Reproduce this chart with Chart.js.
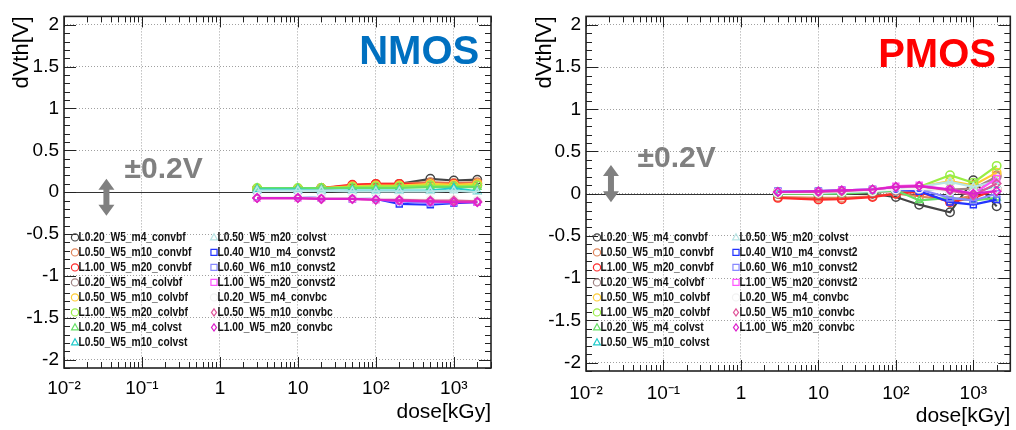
<!DOCTYPE html>
<html>
<head>
<meta charset="utf-8">
<script src="https://cdn.jsdelivr.net/npm/chart.js@4.4.1/dist/chart.umd.min.js"></script>
<style>
  html, body { margin: 0; padding: 0; background: #fff; }
  #wrap { position: relative; width: 1016px; height: 430px; }
  canvas { position: absolute; top: 0; }
</style>
</head>
<body>
<div id="wrap">
  <canvas id="nmos" width="508" height="430" style="left:0"></canvas>
  <canvas id="pmos" width="508" height="430" style="left:508px"></canvas>
</div>
<script>
// dose points (kGy)
const dose = [3, 10, 20, 50, 100, 200, 500, 1000, 2000]

const seriesNames = [
  'L0.20_W5_m4_convbf', 'L0.50_W5_m10_convbf', 'L1.00_W5_m20_convbf',
  'L0.20_W5_m4_colvbf', 'L0.50_W5_m10_colvbf', 'L1.00_W5_m20_colvbf',
  'L0.20_W5_m4_colvst', 'L0.50_W5_m10_colvst', 'L0.50_W5_m20_colvst',
  'L0.40_W10_m4_convst2', 'L0.60_W6_m10_convst2', 'L1.00_W5_m20_convst2',
  'L0.20_W5_m4_convbc', 'L0.50_W5_m10_convbc', 'L1.00_W5_m20_convbc'
]
const seriesColors = [
  '#444444', '#e0855a', '#ff2a2a',
  '#a08484', '#ffcc33', '#99ee44',
  '#66e066', '#22cccc', '#b8e4e4',
  '#2233ff', '#8888ff', '#ff55ff',
  '#f2f2f2', '#e0559a', '#dd22cc'
]
const seriesMarkers = [
  'circle', 'circle', 'circle',
  'circle', 'circle', 'circle',
  'triangle', 'triangle', 'triangle',
  'rect', 'rect', 'rect',
  'circle', 'rectRot', 'rectRot'
]

// NMOS dVth [V]
const nmos_L020_convbf  = [0.04, 0.04, 0.05, 0.08, 0.09, 0.10, 0.16, 0.14, 0.15]
const nmos_L050_convbf  = [0.04, 0.04, 0.05, 0.08, 0.10, 0.10, 0.12, 0.11, 0.12]
const nmos_L100_convbf  = [0.04, 0.04, 0.05, 0.09, 0.10, 0.10, 0.10, 0.10, 0.10]
const nmos_L020_colvbf  = [0.03, 0.03, 0.04, 0.06, 0.07, 0.07, 0.08, 0.08, 0.08]
const nmos_L050_colvbf  = [0.04, 0.04, 0.05, 0.07, 0.08, 0.08, 0.10, 0.09, 0.10]
const nmos_L100_colvbf  = [0.05, 0.05, 0.05, 0.06, 0.07, 0.07, 0.08, 0.07, 0.08]
const nmos_L020_colvst  = [0.05, 0.05, 0.05, 0.05, 0.05, 0.05, 0.06, 0.06, 0.06]
const nmos_L050_colvst  = [0.03, 0.03, 0.02, 0.02, 0.02, 0.02, 0.02, 0.05, 0.01]
const nmos_L050m20_colvst = [0.02, 0.02, 0.02, 0.01, 0.01, 0.01, 0.01, 0.02, 0.00]
const nmos_L040_convst2 = [-0.06, -0.06, -0.07, -0.08, -0.08, -0.14, -0.15, -0.13, -0.12]
const nmos_L060_convst2 = [-0.06, -0.06, -0.07, -0.08, -0.08, -0.11, -0.13, -0.12, -0.11]
const nmos_L100_convst2 = [-0.07, -0.07, -0.07, -0.08, -0.09, -0.10, -0.11, -0.11, -0.12]
const nmos_L020_convbc  = [-0.06, -0.06, -0.07, -0.07, -0.08, -0.08, -0.09, -0.09, -0.10]
const nmos_L050_convbc  = [-0.07, -0.07, -0.08, -0.08, -0.09, -0.09, -0.10, -0.10, -0.11]
const nmos_L100_convbc  = [-0.07, -0.07, -0.08, -0.08, -0.09, -0.10, -0.11, -0.12, -0.12]

// PMOS dVth [V]
const pmos_L020_convbf  = [0.00, 0.00, 0.01, 0.00, -0.04, -0.13, -0.22, 0.16, -0.15]
const pmos_L050_convbf  = [-0.04, -0.05, -0.05, -0.03, 0.00, -0.03, -0.08, -0.02, 0.22]
const pmos_L100_convbf  = [-0.05, -0.07, -0.065, -0.04, 0.00, 0.02, -0.10, -0.05, 0.05]
const pmos_L020_colvbf  = [0.00, 0.00, 0.01, 0.02, 0.03, 0.04, 0.05, 0.06, 0.20]
const pmos_L050_colvbf  = [0.01, 0.01, 0.02, 0.03, 0.06, 0.08, 0.15, 0.10, 0.25]
const pmos_L100_colvbf  = [0.02, 0.02, 0.03, 0.04, 0.06, 0.08, 0.22, 0.13, 0.33]
const pmos_L020_colvst  = [0.00, 0.00, 0.00, 0.02, 0.04, -0.08, -0.05, -0.08, -0.05]
const pmos_L050_colvst  = [0.01, 0.01, 0.02, 0.03, 0.05, 0.06, 0.04, 0.00, 0.10]
const pmos_L050m20_colvst = [0.02, 0.02, 0.03, 0.04, 0.06, 0.08, 0.14, 0.08, 0.15]
const pmos_L040_convst2 = [0.03, 0.03, 0.04, 0.05, 0.05, 0.03, -0.10, -0.13, -0.07]
const pmos_L060_convst2 = [0.03, 0.03, 0.04, 0.05, 0.06, 0.05, -0.05, -0.08, 0.00]
const pmos_L100_convst2 = [0.02, 0.02, 0.04, 0.05, 0.09, 0.10, 0.05, 0.00, 0.18]
const pmos_L020_convbc  = [0.01, 0.01, 0.02, 0.03, 0.05, 0.06, 0.03, 0.00, 0.05]
const pmos_L050_convbc  = [0.02, 0.02, 0.03, 0.05, 0.08, 0.09, 0.04, -0.02, 0.12]
const pmos_L100_convbc  = [0.02, 0.03, 0.04, 0.05, 0.08, 0.09, 0.05, 0.00, 0.03]

const nmosSeries = [
  nmos_L020_convbf, nmos_L050_convbf, nmos_L100_convbf,
  nmos_L020_colvbf, nmos_L050_colvbf, nmos_L100_colvbf,
  nmos_L020_colvst, nmos_L050_colvst, nmos_L050m20_colvst,
  nmos_L040_convst2, nmos_L060_convst2, nmos_L100_convst2,
  nmos_L020_convbc, nmos_L050_convbc, nmos_L100_convbc
]
const pmosSeries = [
  pmos_L020_convbf, pmos_L050_convbf, pmos_L100_convbf,
  pmos_L020_colvbf, pmos_L050_colvbf, pmos_L100_colvbf,
  pmos_L020_colvst, pmos_L050_colvst, pmos_L050m20_colvst,
  pmos_L040_convst2, pmos_L060_convst2, pmos_L100_convst2,
  pmos_L020_convbc, pmos_L050_convbc, pmos_L100_convbc
]

const xTickValues = [0.01, 0.1, 1, 10, 100, 1000]
const xTickLabels = ['10⁻²', '10⁻¹', '1', '10', '10²', '10³']

const SANS = "'Liberation Sans', Arial, sans-serif"

function drawMarker(ctx, style, x, y, r) {
  ctx.beginPath()
  if (style === 'circle') {
    ctx.arc(x, y, r, 0, Math.PI * 2)
  } else if (style === 'triangle') {
    ctx.moveTo(x, y - r)
    ctx.lineTo(x + r * 0.95, y + r * 0.7)
    ctx.lineTo(x - r * 0.95, y + r * 0.7)
    ctx.closePath()
  } else if (style === 'rect') {
    ctx.rect(x - r * 0.85, y - r * 0.85, r * 1.7, r * 1.7)
  } else {
    ctx.moveTo(x, y - r)
    ctx.lineTo(x + r * 0.7, y)
    ctx.lineTo(x, y + r)
    ctx.lineTo(x - r * 0.7, y)
    ctx.closePath()
  }
  ctx.stroke()
}

// ROOT style frame, inner ticks, zero line, legend and labels
const rootDeco = {
  id: 'rootDeco',
  beforeDatasetsDraw(chart, args, opts) {
    const {ctx, chartArea: a, scales: {y}} = chart
    const py = Math.round(y.getPixelForValue(0)) + 0.5
    ctx.save()
    ctx.strokeStyle = '#333'
    ctx.lineWidth = 1.2
    ctx.beginPath()
    ctx.moveTo(a.left, py)
    ctx.lineTo(a.right, py)
    ctx.stroke()
    ctx.restore()
  },
  afterDatasetsDraw(chart, args, opts) {
    const {ctx, chartArea: a, scales: {x, y}} = chart
    ctx.save()
    ctx.strokeStyle = '#222'
    ctx.lineWidth = 1

    // x ticks
    for (let d = -2; d <= 3; d++) {
      for (let m = 1; m <= 9; m++) {
        const v = m * Math.pow(10, d)
        if (v > x.max) break
        const px = Math.round(x.getPixelForValue(v)) + 0.5
        const len = m === 1 ? 11 : 6
        ctx.beginPath()
        ctx.moveTo(px, a.bottom); ctx.lineTo(px, a.bottom - len)
        ctx.moveTo(px, a.top); ctx.lineTo(px, a.top + len)
        ctx.stroke()
      }
    }
    // y ticks
    for (let i = -21; i <= 21; i++) {
      const py = Math.round(y.getPixelForValue(i / 10)) + 0.5
      const len = i % 5 === 0 ? 12 : 6
      ctx.beginPath()
      ctx.moveTo(a.left, py); ctx.lineTo(a.left + len, py)
      ctx.moveTo(a.right, py); ctx.lineTo(a.right - len, py)
      ctx.stroke()
    }
    // frame
    ctx.lineWidth = 1.6
    ctx.strokeRect(a.left, a.top, a.right - a.left, a.bottom - a.top)

    // legend
    ctx.font = 'bold 13.5px ' + SANS
    ctx.textBaseline = 'middle'
    ctx.textAlign = 'left'
    chart.data.datasets.forEach((ds, i) => {
      const col = i < 8 ? 0 : 1
      const row = i < 8 ? i : i - 8
      const mx = a.left + (col === 0 ? 11 : 150)
      const my = a.top + 221 + row * 15
      ctx.strokeStyle = ds.borderColor
      ctx.lineWidth = 1.2
      drawMarker(ctx, ds.pointStyle, mx, my, 3.6)
      ctx.save()
      ctx.translate(mx + 3.5, my)
      ctx.scale(0.76, 1)
      ctx.fillStyle = '#111'
      ctx.fillText(ds.label, 0, 0)
      ctx.restore()
    })

    // big label
    ctx.font = 'bold 40px ' + SANS
    ctx.textAlign = 'center'
    ctx.fillStyle = opts.titleColor
    ctx.fillText(opts.title, x.getPixelForValue(opts.titleAt[0]), y.getPixelForValue(opts.titleAt[1]))

    // +-0.2V note
    ctx.fillStyle = '#808080'
    ctx.font = 'bold 30px ' + SANS
    ctx.fillText('±0.2V', x.getPixelForValue(opts.noteAt[0]), y.getPixelForValue(opts.noteAt[1]))

    // double arrow
    const ax = x.getPixelForValue(opts.arrow[0])
    const y1 = y.getPixelForValue(opts.arrow[1])
    const y2 = y.getPixelForValue(opts.arrow[2])
    const hw = 8, sw = 3, hl = 11
    ctx.beginPath()
    ctx.moveTo(ax, y1)
    ctx.lineTo(ax + hw, y1 + hl)
    ctx.lineTo(ax + sw, y1 + hl)
    ctx.lineTo(ax + sw, y2 - hl)
    ctx.lineTo(ax + hw, y2 - hl)
    ctx.lineTo(ax, y2)
    ctx.lineTo(ax - hw, y2 - hl)
    ctx.lineTo(ax - sw, y2 - hl)
    ctx.lineTo(ax - sw, y1 + hl)
    ctx.lineTo(ax - hw, y1 + hl)
    ctx.closePath()
    ctx.fill()
    ctx.restore()
  }
}

function makeChart(id, values, cfg) {
  const datasets = values.map((vals, i) => ({
    label: seriesNames[i],
    data: dose.map((d, j) => ({x: d, y: vals[j]})),
    borderColor: seriesColors[i],
    backgroundColor: 'rgba(0,0,0,0)',
    pointStyle: seriesMarkers[i],
    pointRadius: 4.2,
    pointBorderWidth: 1.5,
    borderWidth: 2.2,
    tension: 0,
    order: -i
  }))

  return new Chart(document.getElementById(id), {
    type: 'line',
    data: {datasets},
    options: {
      responsive: false,
      animation: false,
      events: [],
      layout: {padding: {left: 0, right: cfg.padRight, top: cfg.padTop, bottom: 0}},
      plugins: {
        legend: {display: false},
        tooltip: {enabled: false},
        rootDeco: cfg.deco
      },
      scales: {
        x: {
          type: 'logarithmic',
          min: 0.01,
          max: 3000,
          afterBuildTicks: s => { s.ticks = xTickValues.map(v => ({value: v, major: true})) },
          afterFit: s => { s.height = cfg.xAxisHeight },
          grid: {color: '#a0a0a0', lineWidth: 1, drawTicks: false},
          border: {display: false, dash: [1, 2]},
          ticks: {
            autoSkip: false, maxRotation: 0, padding: cfg.xTickPad, color: '#000',
            font: {family: SANS, size: 19},
            callback: (v, i) => xTickLabels[i]
          },
          title: {
            display: true, text: 'dose[kGy]', align: 'end', color: '#000',
            font: {family: SANS, size: 21},
            padding: {top: 0, bottom: cfg.xTitlePad}
          }
        },
        y: {
          min: -2.1,
          max: 2.1,
          afterFit: s => { s.width = cfg.yAxisWidth },
          grid: {color: '#a0a0a0', lineWidth: 1, drawTicks: false},
          border: {display: false, dash: [1, 2]},
          ticks: {
            stepSize: 0.5, includeBounds: false, padding: 5, color: '#000',
            font: {family: SANS, size: 19},
            callback: v => String(v)
          },
          title: {
            display: true, text: 'dVth[V]', align: 'end', color: '#000',
            font: {family: SANS, size: 22},
            padding: {top: cfg.yTitlePad, bottom: 0}
          }
        }
      }
    },
    plugins: [rootDeco]
  })
}

makeChart('nmos', nmosSeries, {
  padRight: 17, padTop: 11, yAxisWidth: 64, xAxisHeight: 62,
  xTickPad: 9, xTitlePad: 5, yTitlePad: 9,
  deco: {title: 'NMOS', titleColor: '#0070c0', titleAt: [360, 1.66],
         noteAt: [0.19, 0.27], arrow: [0.035, 0.16, -0.28]}
})

makeChart('pmos', pmosSeries, {
  padRight: 4, padTop: 13, yAxisWidth: 78, xAxisHeight: 59,
  xTickPad: 11, xTitlePad: 1, yTitlePad: 24,
  deco: {title: 'PMOS', titleColor: '#ff0000', titleAt: [340, 1.63],
         noteAt: [0.148, 0.42], arrow: [0.021, 0.34, -0.1]}
})
</script>
</body>
</html>
